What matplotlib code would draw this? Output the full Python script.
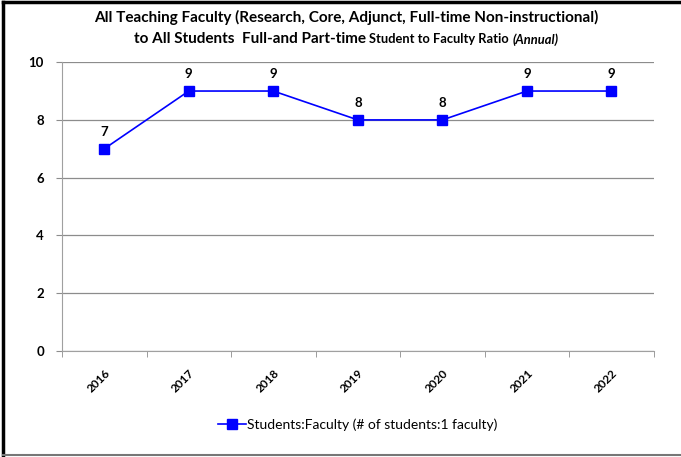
import matplotlib
matplotlib.use('Agg')
import matplotlib.pyplot as plt
from matplotlib.lines import Line2D

# Chart data
years = ['2016', '2017', '2018', '2019', '2020', '2021', '2022']
ratio = [7, 9, 9, 8, 8, 9, 9]
series_name = 'Students:Faculty (# of students:1 faculty)'
y_ticks = [0, 2, 4, 6, 8, 10]

title_line1 = 'All Teaching Faculty (Research, Core, Adjunct, Full-time Non-instructional)'
title_line2 = [
    ('to All Students  Full-and Part-time ', 11, 'normal'),
    ('Student to Faculty Ratio ', 9.3, 'normal'),
    ('(Annual)', 9.3, 'italic'),
]

plt.rcParams['font.family'] = ['Lato', 'DejaVu Sans']
grid_color = '#8c8c8c'
blue = '#0000ff'

fig = plt.figure(figsize=(6.81, 4.57), dpi=100)
ax = fig.add_axes([0.091, 0.232, 0.869, 0.632])

x = list(range(len(years)))
ax.plot(x, ratio, color=blue, linewidth=1.2, marker='s', markersize=6.5,
        markerfacecolor=blue, markeredgecolor=blue, label=series_name)
for xi, v in zip(x, ratio):
    ax.annotate(str(v), (xi, v), xytext=(0, 8), textcoords='offset points',
                ha='center', va='bottom', fontsize=9.5, fontweight='bold')

ax.set_xlim(-0.5, len(years) - 0.5)
ax.set_ylim(0, 10)
ax.set_yticks(y_ticks)
ax.set_yticklabels([str(t) for t in y_ticks], fontsize=9.5, fontweight='bold')
ax.set_xticks(x)
ax.set_xticklabels(years, rotation=45, fontsize=8.5, fontweight='bold',
                   ha='right', va='top', rotation_mode='anchor')
ax.tick_params(axis='x', length=0, pad=12)
ax.set_xticks([i - 0.5 for i in range(len(years) + 1)], minor=True)
ax.tick_params(axis='x', which='minor', length=4, color=grid_color, direction='out')
ax.tick_params(axis='y', length=4, color=grid_color, direction='out', pad=9)

ax.yaxis.grid(True, color=grid_color, linewidth=0.9)
ax.set_axisbelow(True)
for s in ['top', 'right']:
    ax.spines[s].set_visible(False)
ax.spines['left'].set_color('#a0a0a0')
ax.spines['bottom'].set_color('#a0a0a0')

# Title
fig.text(0.508, 0.962, title_line1, ha='center', va='center',
         fontsize=11, fontweight='bold')
fig.canvas.draw()
renderer = fig.canvas.get_renderer()
pieces = []
total = 0
for txt, size, style in title_line2:
    t = fig.text(0, 0.905, txt, ha='left', va='baseline', fontsize=size,
                 fontweight='bold', fontstyle=style)
    w = t.get_window_extent(renderer).width
    pieces.append((t, w))
    total += w
x0 = 0.508 * fig.bbox.width - total / 2
for t, w in pieces:
    t.set_x(x0 / fig.bbox.width)
    x0 += w

# Legend
ax.legend(loc='center', bbox_to_anchor=(0.5, -0.255), frameon=False,
          fontsize=10, handlelength=2.0, handletextpad=0.1)

# Outer border
fig.add_artist(Line2D([0.005, 0.005], [0.004, 0.996], color='black', linewidth=2.5,
                      transform=fig.transFigure))
fig.add_artist(Line2D([0.005, 1.0], [0.995, 0.995], color='black', linewidth=2.5,
                      transform=fig.transFigure))
fig.add_artist(Line2D([0.005, 1.0], [0.004, 0.004], color='#777777', linewidth=1.5,
                      transform=fig.transFigure))

fig.savefig('out.png', dpi=100)
